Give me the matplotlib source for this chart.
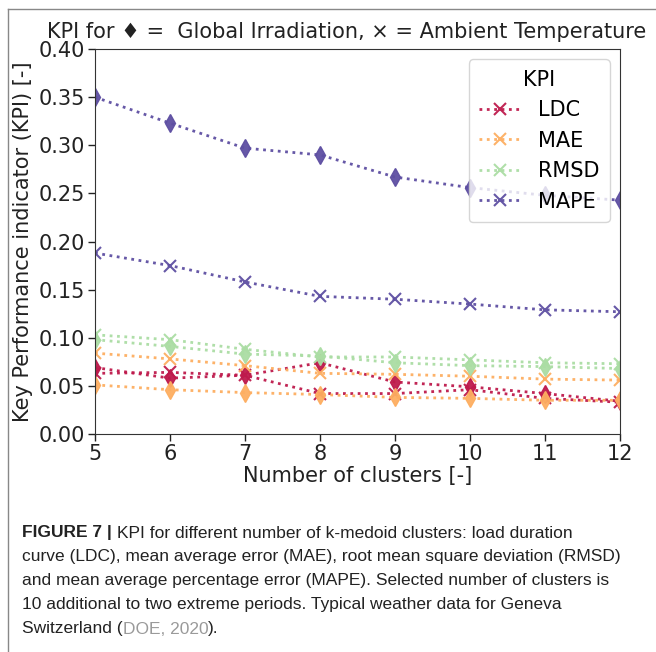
import matplotlib.pyplot as plt
from matplotlib.lines import Line2D

clusters = [5, 6, 7, 8, 9, 10, 11, 12]
kpis = ["LDC", "MAE", "RMSD", "MAPE"]
colors = ["#be1a4c", "#fdae61", "#abdda4", "#5e4fa2"]

# diamond = global irradiation
ldc_irr = [0.069, 0.058, 0.061, 0.074, 0.054, 0.049, 0.042, 0.034]
mae_irr = [0.051, 0.046, 0.043, 0.041, 0.038, 0.037, 0.035, 0.035]
rmsd_irr = [0.098, 0.091, 0.083, 0.081, 0.074, 0.071, 0.070, 0.068]
mape_irr = [0.350, 0.323, 0.297, 0.290, 0.267, 0.256, 0.248, 0.243]

# cross = ambient temperature
ldc_temp = [0.063, 0.064, 0.061, 0.042, 0.042, 0.046, 0.037, 0.033]
mae_temp = [0.084, 0.078, 0.071, 0.063, 0.062, 0.060, 0.057, 0.056]
rmsd_temp = [0.103, 0.098, 0.088, 0.080, 0.080, 0.077, 0.074, 0.073]
mape_temp = [0.188, 0.175, 0.158, 0.143, 0.140, 0.135, 0.129, 0.127]

irr = [ldc_irr, mae_irr, rmsd_irr, mape_irr]
temp = [ldc_temp, mae_temp, rmsd_temp, mape_temp]

caption = [
    "KPI for different number of k-medoid clusters: load duration",
    "curve (LDC), mean average error (MAE), root mean square deviation (RMSD)",
    "and mean average percentage error (MAPE). Selected number of clusters is",
    "10 additional to two extreme periods. Typical weather data for Geneva",
]

FS = 15
plt.rcParams["font.family"] = ["DejaVu Sans"]
fig = plt.figure(figsize=(6.56, 6.52), dpi=100)
ax = fig.add_axes([0.1448, 0.3344, 0.8002, 0.5904])

for name, c, yi, yt in zip(kpis, colors, irr, temp):
    ax.plot(clusters, yi, linestyle=":", lw=2, color=c, marker="d", ms=9, alpha=0.95)
    ax.plot(clusters, yt, linestyle=":", lw=2, color=c, marker="x", ms=9,
            mew=1.5, alpha=0.95, label=name)

ax.set_xlim(5, 12)
ax.set_ylim(0, 0.40)
ax.set_yticks([0, 0.05, 0.10, 0.15, 0.20, 0.25, 0.30, 0.35, 0.40])
ax.set_yticklabels([f"{v:.2f}" for v in ax.get_yticks()])
ax.tick_params(labelsize=FS, colors="#222222", length=5, width=1, pad=2)
for s in ax.spines.values():
    s.set_color("#333333")
ax.set_xlabel("Number of clusters [-]", fontsize=FS, color="#222222", labelpad=2)
ax.set_ylabel("Key Performance indicator (KPI) [-]", fontsize=FS, color="#222222",
              labelpad=4)

leg = ax.legend(title="KPI", fontsize=FS, title_fontsize=FS, loc="upper right",
                labelspacing=0.5, handlelength=2.0, borderpad=0.5)
leg.get_frame().set_edgecolor("#cccccc")

fig.text(347 / 656, 1 - 32 / 652,
         "KPI for \u2666 =  Global Irradiation, \u00d7 = Ambient Temperature",
         ha="center", va="center", fontsize=FS, color="#222222")

# outer frame
fig.add_artist(Line2D([8 / 656, 8 / 656], [0, 1 - 9 / 652], transform=fig.transFigure,
                      color="#888888", lw=1))
fig.add_artist(Line2D([8 / 656, 1], [1 - 9 / 652, 1 - 9 / 652], transform=fig.transFigure,
                      color="#888888", lw=1))

cap_font = ["Liberation Sans"]
CFS = 12.5
y0 = 1 - 533 / 652
step = 24 / 652
t0 = fig.text(22 / 656, y0, "FIGURE 7 | ", fontsize=CFS, fontweight="bold",
              family=cap_font, va="center", color="#222222")
fig.canvas.draw()
bb0 = t0.get_window_extent().transformed(fig.transFigure.inverted())
fig.text(bb0.x1, y0, caption[0], fontsize=CFS, family=cap_font,
         va="center", color="#222222")
for i, line in enumerate(caption[1:], start=1):
    fig.text(22 / 656, y0 - i * step, line, fontsize=CFS, family=cap_font,
             va="center", color="#222222")
ylast = y0 - 4 * step
t = fig.text(22 / 656, ylast, "Switzerland (", fontsize=CFS, family=cap_font,
             va="center", color="#222222")
fig.canvas.draw()
bb = t.get_window_extent().transformed(fig.transFigure.inverted())
t2 = fig.text(bb.x1, ylast, "DOE, 2020", fontsize=CFS, family=cap_font,
              va="center", color="#9a9a9a")
fig.canvas.draw()
bb2 = t2.get_window_extent().transformed(fig.transFigure.inverted())
fig.text(bb2.x1, ylast, ").", fontsize=CFS, family=cap_font,
         va="center", color="#222222")

fig.savefig("out.png", dpi=100)
